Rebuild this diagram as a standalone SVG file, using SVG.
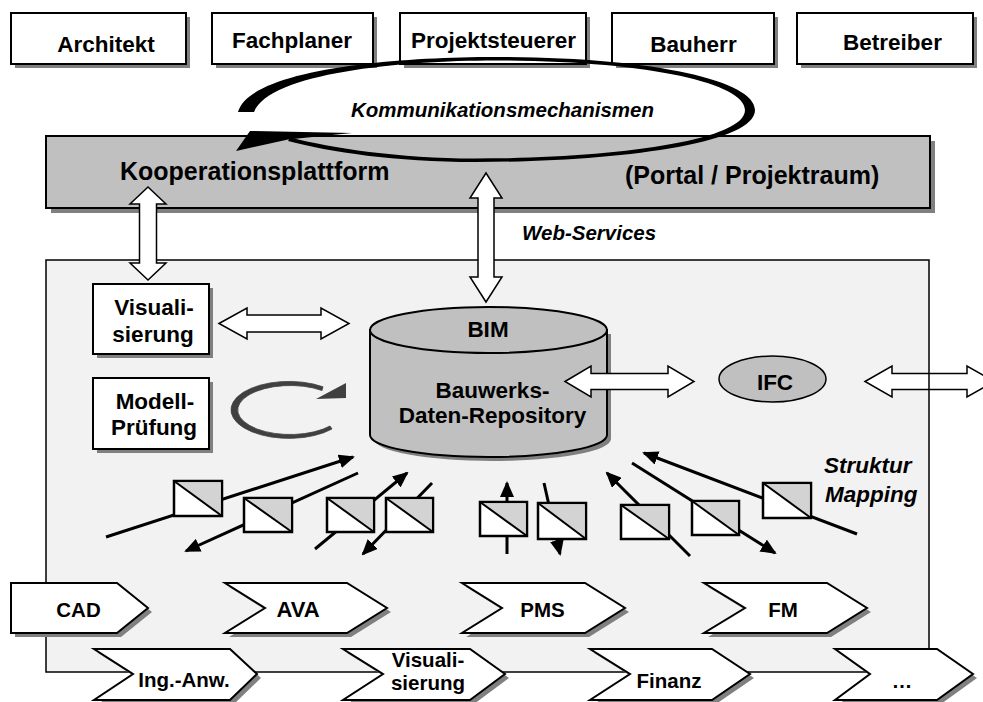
<svg xmlns="http://www.w3.org/2000/svg" width="983" height="702" viewBox="0 0 983 702">
<defs>
<style>
.t{font-family:"Liberation Sans",Arial,sans-serif;font-weight:bold;fill:#000}
.m{text-anchor:middle}
.it{font-style:italic}
.box{fill:#fff;stroke:#000;stroke-width:2}
.sh{fill:#808080}
.gr{fill:#c0c0c0;stroke:#000;stroke-width:2}
.blk{fill:#fff;stroke:#000;stroke-width:1.5}
.map{stroke:#000;stroke-width:3;fill:none}
.mbox{fill:#fff;stroke:#000;stroke-width:2.5}
.mtri{fill:#d3d3d3}
.chev{fill:#fff;stroke:#000;stroke-width:2}
</style>
<marker id="ah" markerUnits="userSpaceOnUse" markerWidth="16" markerHeight="14" viewBox="0 0 16 14" refX="14" refY="7" orient="auto">
<path d="M0,0 L16,7 L0,14 Z" fill="#000"/>
</marker>
</defs>

<!-- top actor boxes -->
<g id="architekt"><rect class="sh" x="15" y="17" width="175" height="51"/><rect class="box" x="11" y="13" width="175" height="51"/><text class="t m" x="106" y="52" font-size="22.5">Architekt</text></g>
<g id="fachplaner"><rect class="sh" x="216" y="17" width="161" height="51"/><rect class="box" x="212" y="13" width="161" height="51"/><text class="t m" x="292" y="48" font-size="22.5">Fachplaner</text></g>
<g id="projektsteuerer"><rect class="sh" x="404" y="17" width="186" height="51"/><rect class="box" x="400" y="13" width="186" height="51"/><text class="t m" x="493.5" y="48" font-size="22.5">Projektsteuerer</text></g>
<g id="bauherr"><rect class="sh" x="616" y="17" width="162" height="51"/><rect class="box" x="612" y="13" width="162" height="51"/><text class="t m" x="693.5" y="52" font-size="22.5">Bauherr</text></g>
<g id="betreiber"><rect class="sh" x="801" y="17" width="176" height="51"/><rect class="box" x="797" y="13" width="176" height="51"/><text class="t m" x="892.5" y="50" font-size="22.5">Betreiber</text></g>

<!-- platform banner -->
<g id="kooperationsplattform">
<rect class="sh" x="51" y="141" width="884" height="72"/>
<rect class="gr" x="46" y="136" width="884" height="72"/>
<text class="t" x="120" y="180" font-size="25">Kooperationsplattform</text>
<text class="t" x="625" y="184" font-size="25">(Portal / Projektraum)</text>
</g>

<!-- communication loop -->
<g id="kommunikation">
<path d="M238,112 C250,70 390,57 495,57 C650,57 755,80 755,110 C755,145 610,162 475,162 C395,162 330,152 288,141 L290,137.5 C332,148 398,158.5 475,158.5 C605,158.5 745,142 745,110 C745,83 645,60.5 495,60.5 C400,60.5 270,73 254,112 Z" fill="#000"/>
<polygon points="236,151 250,131 352,133 288,139.5" fill="#000"/>
<text class="t it" x="351" y="117" font-size="20.5">Kommunikationsmechanismen</text>
</g>

<!-- main panel -->
<g id="panel">
<rect x="46" y="260" width="883" height="412" fill="#f2f2f2"/>
</g>

<g id="connectors">
<path id="arrow-ifc-out" class="blk" d="M865,381.5 L892,366 L892,373.5 L967,373.5 L967,366 L994,381.5 L967,397 L967,389.5 L892,389.5 L892,397 Z"/>
</g>

<g id="panel-border">
<rect x="46" y="260" width="883" height="412" fill="none" stroke="#000" stroke-width="1.5"/>
</g>

<text class="t it" x="522" y="240" font-size="20.5">Web-Services</text>

<g id="connectors-2">
<path class="blk" d="M148,187 L166,204 L156.5,204 L156.5,263 L166,263 L148,280 L130,263 L139.5,263 L139.5,204 L130,204 Z"/>
<path class="blk" d="M486,173 L502,198 L494,198 L494,277 L502,277 L486,302 L470,277 L478,277 L478,198 L470,198 Z"/>
</g>

<!-- Visualisierung -->
<g id="visualisierung">
<rect class="sh" x="97" y="288" width="116" height="70"/>
<rect class="box" x="93" y="284" width="116" height="70"/>
<text class="t m" x="154" y="315" font-size="22.5">Visuali-</text>
<text class="t m" x="153" y="342" font-size="22.5">sierung</text>
</g>

<!-- Modell-Pruefung -->
<g id="modellpruefung">
<rect class="sh" x="97" y="382" width="116" height="71"/>
<rect class="box" x="93" y="378" width="116" height="71"/>
<text class="t m" x="155" y="409" font-size="22.5">Modell-</text>
<text class="t m" x="154" y="435" font-size="22.5">Prüfung</text>
</g>

<!-- BIM cylinder -->
<g id="bim">
<path class="sh" d="M374,334 L374,439 A118.5 22 0 0 0 611,439 L611,334 Z"/>
<path d="M370,330 L370,435 A118.5 22 0 0 0 607,435 L607,330 Z" fill="#c0c0c0" stroke="#000" stroke-width="2"/>
<ellipse cx="488.5" cy="330" rx="118.5" ry="23" fill="#c0c0c0" stroke="#000" stroke-width="2"/>
<text class="t m" x="488" y="337" font-size="22.5">BIM</text>
<text class="t m" x="492.5" y="398" font-size="22.5">Bauwerks-</text>
<text class="t m" x="492.5" y="423" font-size="22.5">Daten-Repository</text>
</g>

<!-- IFC -->
<g id="ifc">
<ellipse cx="772.5" cy="379" rx="53.5" ry="23" fill="#c0c0c0" stroke="#000" stroke-width="1.5"/>
<text class="t m" x="775" y="390" font-size="22.5">IFC</text>
</g>

<g id="connectors-3">
<path class="blk" d="M219,323.5 L247,308 L247,315 L321,315 L321,308 L349,323.5 L321,339 L321,332 L247,332 L247,339 Z"/>
<path class="blk" d="M565,381.5 L591,366 L591,373.5 L668,373.5 L668,366 L694,381.5 L668,397 L668,389.5 L591,389.5 L591,397 Z"/>
<!-- model check cycle -->
<path d="M332,429 A58 28.5 0 1 1 323,386.8 L322,390.5 A52.5 24.5 0 1 0 330,426 Z" fill="#404040" stroke="#404040" stroke-width="0.8"/>
<polygon points="316,399 346,383 346,398" fill="#404040"/>
</g>

<text class="t it" x="824" y="473" font-size="22.5">Struktur</text>
<text class="t it" x="825" y="502" font-size="22.5">Mapping</text>

<!-- structure mapping lines -->
<g id="mapping-lines">
<line class="map" x1="106" y1="537" x2="353" y2="457" marker-end="url(#ah)"/>
<line class="map" x1="358" y1="473" x2="186" y2="551" marker-end="url(#ah)"/>
<line class="map" x1="315" y1="549" x2="407" y2="473" marker-end="url(#ah)"/>
<line class="map" x1="432" y1="483" x2="363" y2="554" marker-end="url(#ah)"/>
<line class="map" x1="507" y1="554" x2="507" y2="483" marker-end="url(#ah)"/>
<line class="map" x1="544" y1="483" x2="560" y2="554" marker-end="url(#ah)"/>
<line class="map" x1="690" y1="556" x2="607" y2="473" marker-end="url(#ah)"/>
<line class="map" x1="632" y1="463" x2="775" y2="553" marker-end="url(#ah)"/>
<line class="map" x1="857" y1="534" x2="644" y2="453" marker-end="url(#ah)"/>
</g>

<!-- mapping boxes -->
<g id="map-a"><rect class="mbox" x="174" y="481" width="48" height="35"/><polygon class="mtri" points="175.5,482.5 220.5,482.5 220.5,514.5"/><line x1="174" y1="481" x2="222" y2="516" stroke="#000" stroke-width="2"/></g>
<g id="map-b"><rect class="mbox" x="244" y="498" width="48" height="34"/><polygon class="mtri" points="245.5,499.5 290.5,499.5 290.5,530.5"/><line x1="244" y1="498" x2="292" y2="532" stroke="#000" stroke-width="2"/></g>
<g id="map-c"><rect class="mbox" x="327" y="498" width="47" height="34"/><polygon class="mtri" points="328.5,499.5 372.5,499.5 372.5,530.5"/><line x1="327" y1="498" x2="374" y2="532" stroke="#000" stroke-width="2"/></g>
<g id="map-d"><rect class="mbox" x="386" y="498" width="47" height="34"/><polygon class="mtri" points="387.5,499.5 431.5,499.5 431.5,530.5"/><line x1="386" y1="498" x2="433" y2="532" stroke="#000" stroke-width="2"/></g>
<g id="map-e"><rect class="mbox" x="480" y="502" width="47" height="34"/><polygon class="mtri" points="481.5,503.5 525.5,503.5 525.5,534.5"/><line x1="480" y1="502" x2="527" y2="536" stroke="#000" stroke-width="2"/></g>
<g id="map-f"><rect class="mbox" x="538" y="503" width="48" height="36"/><polygon class="mtri" points="539.5,504.5 584.5,504.5 584.5,537.5"/><line x1="538" y1="503" x2="586" y2="539" stroke="#000" stroke-width="2"/></g>
<g id="map-g"><rect class="mbox" x="621" y="505" width="48" height="34"/><polygon class="mtri" points="622.5,506.5 667.5,506.5 667.5,537.5"/><line x1="621" y1="505" x2="669" y2="539" stroke="#000" stroke-width="2"/></g>
<g id="map-h"><rect class="mbox" x="692" y="501" width="47" height="34"/><polygon class="mtri" points="693.5,502.5 737.5,502.5 737.5,533.5"/><line x1="692" y1="501" x2="739" y2="535" stroke="#000" stroke-width="2"/></g>
<g id="map-i"><rect class="mbox" x="763" y="483" width="48" height="35"/><polygon class="mtri" points="764.5,484.5 809.5,484.5 809.5,516.5"/><line x1="763" y1="483" x2="811" y2="518" stroke="#000" stroke-width="2"/></g>

<!-- application chevrons row 1 -->
<g id="cad"><polygon class="sh" points="15,587 121,587 152,612 121,637 15,637"/><polygon class="chev" points="11,583 117,583 148,608 117,633 11,633"/><text class="t m" x="78.5" y="617" font-size="20.5">CAD</text></g>
<g id="ava"><polygon class="sh" points="229,587 351,587 391,612 351,637 229,637 269,612"/><polygon class="chev" points="225,583 347,583 387,608 347,633 225,633 265,608"/><text class="t m" x="298" y="617" font-size="22">AVA</text></g>
<g id="pms"><polygon class="sh" points="466,587 589,587 629,612 589,637 466,637 506,612"/><polygon class="chev" points="462,583 585,583 625,608 585,633 462,633 502,608"/><text class="t m" x="542.5" y="617" font-size="20.5">PMS</text></g>
<g id="fm"><polygon class="sh" points="708,587 831,587 871,612 831,637 708,637 749,612"/><polygon class="chev" points="704,583 827,583 867,608 827,633 704,633 745,608"/><text class="t m" x="783" y="617" font-size="20.5">FM</text></g>

<!-- application chevrons row 2 -->
<g id="ing-anw"><polygon class="sh" points="98,653 234,653 261,678 234,704 98,704 137,678"/><polygon class="chev" points="94,649 230,649 257,674 230,700 94,700 133,674"/><text class="t m" x="184" y="687" font-size="20.5">Ing.-Anw.</text></g>
<g id="visualisierung-2"><polygon class="sh" points="347,653 474,653 509,678 474,704 347,704 387,678"/><polygon class="chev" points="343,649 470,649 505,674 470,700 343,700 383,674"/><text class="t m" x="428" y="667" font-size="20.5">Visuali-</text><text class="t m" x="428" y="690" font-size="20.5">sierung</text></g>
<g id="finanz"><polygon class="sh" points="594,653 716,653 754,678 716,704 594,704 634,678"/><polygon class="chev" points="590,649 712,649 750,674 712,700 590,700 630,674"/><text class="t m" x="669" y="688" font-size="20.5">Finanz</text></g>
<g id="weitere"><polygon class="sh" points="839,653 941,653 977,678 941,704 839,704 874,678"/><polygon class="chev" points="835,649 937,649 973,674 937,700 835,700 870,674"/><text class="t m" x="902" y="688" font-size="20.5">…</text></g>
</svg>
